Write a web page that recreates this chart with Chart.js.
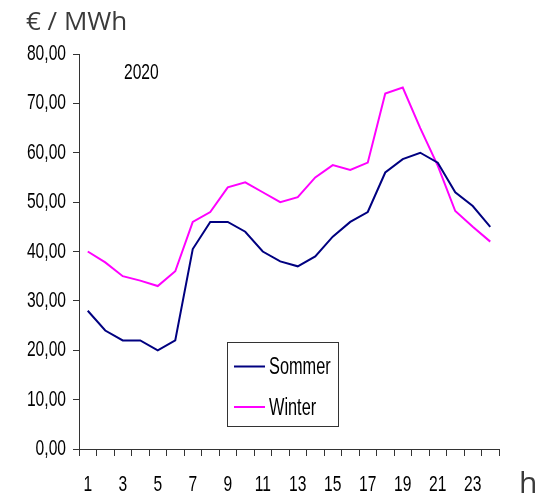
<!DOCTYPE html>
<html>
<head>
<meta charset="utf-8">
<script src="https://cdn.jsdelivr.net/npm/chart.js@4"></script>
<style>
  html, body { margin: 0; padding: 0; background: #fff; }
  #wrap { position: relative; width: 545px; height: 496px; }
</style>
</head>
<body>
<div id="wrap"><canvas id="grafico" width="545" height="496"></canvas></div>
<script>
const horas = ['1','2','3','4','5','6','7','8','9','10','11','12','13','14','15','16','17','18','19','20','21','22','23','24'];
const sommer = [28, 24, 22, 22, 20, 22, 40.5, 46, 46, 44, 40, 38, 37, 39, 43, 46, 48, 56, 58.7, 60, 58, 52, 49.2, 45];
const winter = [40, 37.8, 35, 34.1, 33, 36, 46, 48, 53, 54, 52, 50, 51, 55, 57.5, 56.5, 58, 72, 73.2, 65, 57.4, 48.2, 45, 42];
const yMin = 0, yMax = 80, yStep = 10;

const narrow = '"Liberation Sans", Arial, sans-serif';
const aperto = 0.71; // sem fonte narrow instalada: comprime na horizontal

const ctx = document.getElementById('grafico').getContext('2d');

// imita Arial Narrow: todo texto em Liberation Sans sai comprimido
const fillOriginal = ctx.fillText;
ctx.fillText = function (t, x, y, mw) {
  if (this.font.indexOf('Liberation Sans') >= 0) {
    this.save();
    this.translate(x, y);
    this.scale(aperto, 1);
    fillOriginal.call(this, t, 0, 0);
    this.restore();
  } else {
    fillOriginal.call(this, t, x, y, mw);
  }
};

// textos fixos + legenda dentro do grafico
const extras = {
  id: 'extras',
  afterDraw(chart) {
    const c = chart.ctx;
    c.save();
    c.fillStyle = '#3a3a3a';
    c.textBaseline = 'alphabetic';
    c.font = '26px "Open Sans", sans-serif';
    c.fillText('€ / MWh', 26, 30);
    c.font = '30px "Open Sans", sans-serif';
    c.fillText('h', 519, 493);
    c.fillStyle = '#000';
    c.font = '22px ' + narrow;
    c.fillText('2020', 124, 79);

    // legenda
    c.strokeStyle = '#333';
    c.lineWidth = 1;
    c.strokeRect(227.5, 342.5, 111, 84);
    chart.data.datasets.forEach((ds, i) => {
      const y = 366.5 + i * 40.5;
      c.strokeStyle = ds.borderColor;
      c.lineWidth = 2;
      c.beginPath();
      c.moveTo(234, y);
      c.lineTo(265, y);
      c.stroke();
      c.fillStyle = '#000';
      c.textBaseline = 'alphabetic';
      c.font = '23px ' + narrow;
      c.fillText(ds.label, 269, y + 7.5);
    });
    c.restore();
  }
};

const chart = new Chart(ctx, {
  type: 'line',
  data: {
    labels: horas,
    datasets: [
      { label: 'Sommer', data: sommer, borderColor: '#000080', borderWidth: 2, pointRadius: 0, tension: 0 },
      { label: 'Winter', data: winter, borderColor: '#ff00ff', borderWidth: 2, pointRadius: 0, tension: 0 }
    ]
  },
  options: {
    responsive: false,
    animation: false,
    layout: { padding: { top: 54, right: 46, bottom: 0, left: 0 } },
    scales: {
      x: {
        offset: true,
        grid: { offset: true, drawOnChartArea: false, tickLength: 7, tickColor: '#333' },
        border: { color: '#333', width: 1 },
        ticks: {
          color: '#000',
          font: { family: narrow, size: 22 },
          autoSkip: false,
          maxRotation: 0,
          padding: 16,
          callback: (v, i) => (i % 2 === 0 ? horas[i] : '')
        },
        afterFit: s => { s.height = 47; }
      },
      y: {
        min: yMin,
        max: yMax,
        grid: { drawOnChartArea: false, tickLength: 6, tickColor: '#333' },
        border: { color: '#333', width: 1 },
        ticks: {
          stepSize: yStep,
          color: '#000',
          font: { family: narrow, size: 22 },
          padding: 7,
          callback: v => v.toFixed(2).replace('.', ',')
        },
        afterFit: s => { s.width = 79; }
      }
    },
    plugins: {
      legend: { display: false },
      tooltip: { enabled: false }
    }
  },
  plugins: [extras]
});
</script>
</body>
</html>
